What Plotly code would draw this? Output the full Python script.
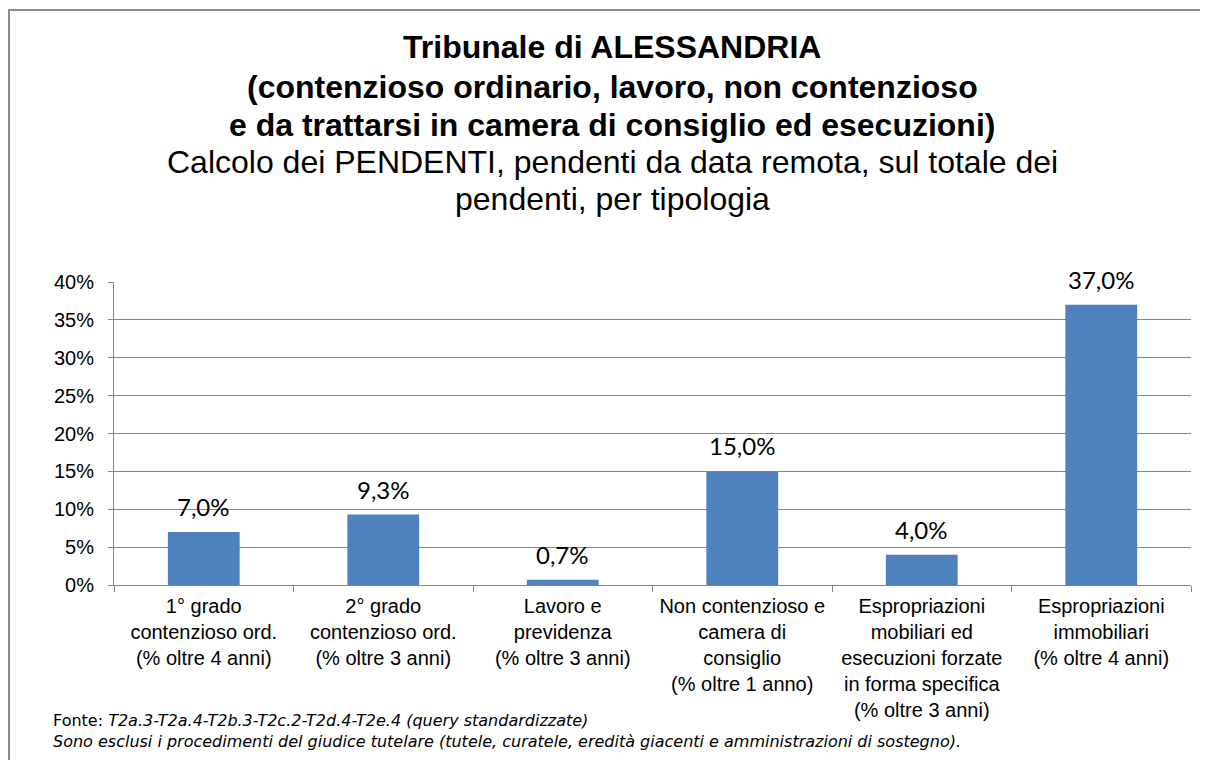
import plotly.graph_objects as go

categories = [
    "1° grado<br>contenzioso ord.<br>(% oltre 4 anni)",
    "2° grado<br>contenzioso ord.<br>(% oltre 3 anni)",
    "Lavoro e<br>previdenza<br>(% oltre 3 anni)",
    "Non contenzioso e<br>camera di<br>consiglio<br>(% oltre 1 anno)",
    "Espropriazioni<br>mobiliari ed<br>esecuzioni forzate<br>in forma specifica<br>(% oltre 3 anni)",
    "Espropriazioni<br>immobiliari<br>(% oltre 4 anni)",
]
values = [7.0, 9.3, 0.7, 15.0, 4.0, 37.0]
y_ticks = [0, 5, 10, 15, 20, 25, 30, 35, 40]
y_tick_text = ["0%", "5%", "10%", "15%", "20%", "25%", "30%", "35%", "40%"]

title_lines = [
    "<b>Tribunale di ALESSANDRIA</b>",
    "<b>(contenzioso ordinario, lavoro, non contenzioso</b>",
    "<b>e da trattarsi in camera di consiglio ed esecuzioni)</b>",
    "Calcolo dei PENDENTI, pendenti da data remota, sul totale dei",
    "pendenti, per tipologia",
]

# page has an 8px body margin; work in screen pixels and convert
OFF = 8
W, H = 1208, 760
L, R, T, B = 114 - OFF, 1191 - OFF, 282 - OFF, 585 - OFF


def px(x):
    return (x - OFF - L) / (R - L)


def py(y):
    return (B - (y - OFF)) / (B - T)


fig = go.Figure()
fig.add_trace(go.Bar(
    x=categories, y=values, marker=dict(color="#4F81BD", line=dict(width=0)),
    width=0.4, hoverinfo="skip",
))

annotations = []
for c, v in zip(categories, values):
    annotations.append(dict(
        x=c, y=v, xref="x", yref="y", text=f"{v:.1f}%".replace(".", ","),
        showarrow=False, yanchor="bottom", yshift=9,
        font=dict(family="Lato", size=24, color="#000000"),
    ))

title_y = [47, 87, 125, 162, 199]
for i, (t, yy) in enumerate(zip(title_lines, title_y)):
    annotations.append(dict(
        x=px(612), y=py(yy), xref="paper", yref="paper", text=t,
        showarrow=False, xanchor="center", yanchor="middle",
        font=dict(family="Liberation Sans, Arial", size=32, color="#000000"),
    ))

annotations.append(dict(
    x=px(51), y=py(720), xref="paper", yref="paper",
    text="Fonte: <i>T2a.3-T2a.4-T2b.3-T2c.2-T2d.4-T2e.4 (query standardizzate)</i>",
    showarrow=False, xanchor="left", yanchor="middle",
    font=dict(family="DejaVu Sans", size=16, color="#000000"),
))
annotations.append(dict(
    x=px(51), y=py(741), xref="paper", yref="paper",
    text="<i>Sono esclusi i procedimenti del giudice tutelare (tutele, curatele, eredità giacenti e amministrazioni di sostegno).</i>",
    showarrow=False, xanchor="left", yanchor="middle",
    font=dict(family="DejaVu Sans", size=16, color="#000000"),
))

fig.update_layout(
    width=W, height=H,
    margin=dict(l=L, r=W - R, t=T, b=H - B),
    paper_bgcolor="white", plot_bgcolor="white",
    showlegend=False,
    annotations=annotations,
    shapes=[dict(
        type="rect", xref="paper", yref="paper",
        x0=px(9), x1=px(1240), y0=py(800), y1=py(10),
        line=dict(color="#8C8C8C", width=2), fillcolor="rgba(0,0,0,0)", layer="below",
    )],
    font=dict(family="Liberation Sans, Arial", size=20, color="#000000"),
)
fig.update_xaxes(
    showline=True, linecolor="#868686", linewidth=1,
    ticks="outside", tickson="boundaries", ticklen=6, tickcolor="#868686",
    showgrid=False, tickfont=dict(size=20), tickangle=0, ticklabelstandoff=3,
)
fig.update_yaxes(
    range=[0, 40], tickvals=y_ticks, ticktext=y_tick_text,
    showline=True, linecolor="#868686", linewidth=1,
    ticks="outside", ticklen=5, tickcolor="#868686",
    showgrid=True, gridcolor="#868686", gridwidth=1,
    zeroline=False, tickfont=dict(size=20), ticklabelstandoff=10,
)

fig.write_html("out.html")
